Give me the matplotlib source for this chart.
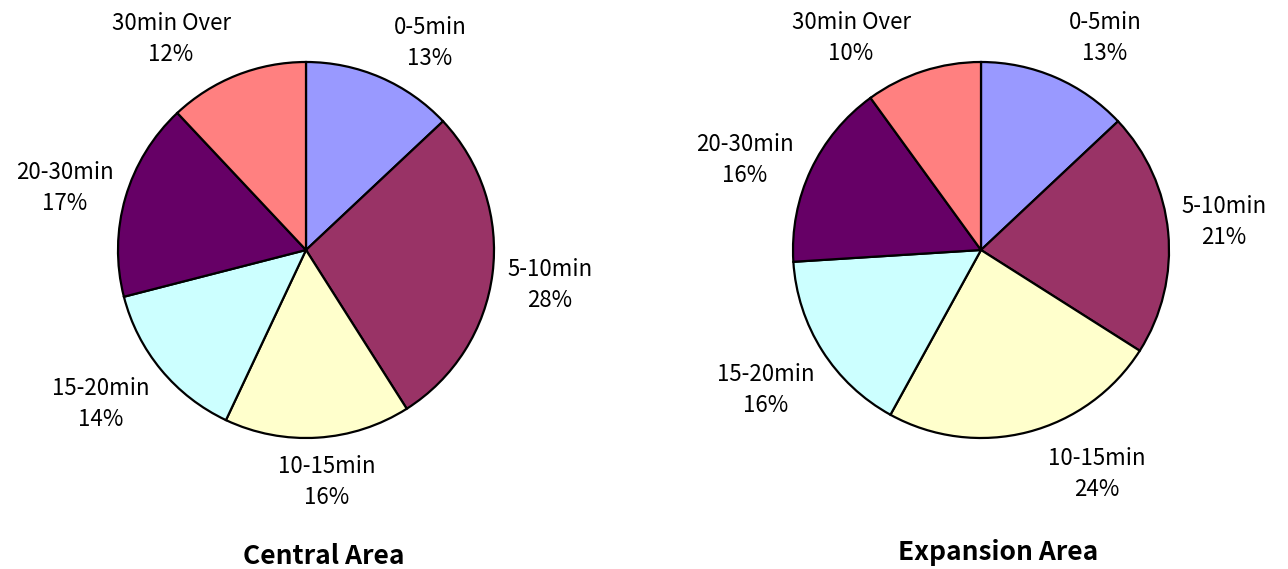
import matplotlib
matplotlib.use("Agg")
import matplotlib.pyplot as plt

plt.rcParams['font.family'] = ['Noto Sans CJK JP', 'DejaVu Sans']

categories = ["0-5min", "5-10min", "10-15min", "15-20min", "20-30min", "30min Over"]
central_pct = [13, 28, 16, 14, 17, 12]
expansion_pct = [13, 21, 24, 16, 16, 10]
titles = ["Central Area", "Expansion Area"]
colors = ["#9999FF", "#993366", "#FFFFCC", "#CCFFFF", "#660066", "#FF8080"]

W, H = 1288, 569
R = 188.0  # pie radius in pixels
fig = plt.figure(figsize=(W / 100, H / 100), dpi=100)

# label anchors relative to the pie centre, in pixels (x right, y up)
central_label_xy = [(124, 207), (244, -35), (21, -232), (-205, -154), (-241, 62), (-135, 211)]
expansion_label_xy = [(124, 212), (243, 28), (116, -224), (-215, -140), (-236, 90), (-130, 212)]


def draw_pie(rect_px, center_px, values, title, label_xy, title_xy):
    x0, x1 = rect_px
    ax = fig.add_axes([x0 / W, 0, (x1 - x0) / W, 1])
    cx, cy = center_px
    ax.pie(values, colors=colors, startangle=90, counterclock=False,
           wedgeprops=dict(edgecolor="black", linewidth=1.6))
    ax.set_aspect('auto')
    ax.set_xlim(-(cx - x0) / R, (x1 - cx) / R)
    ax.set_ylim(-(H - cy) / R, cy / R)
    for cat, v, (lx, ly) in zip(categories, values, label_xy):
        ax.text(lx / R, ly / R, f"{cat}\n{v}%", ha="center", va="center",
                fontsize=16, linespacing=1.48)
    ax.text(title_xy[0] / R, title_xy[1] / R, title, ha="center", va="center",
            fontsize=19, fontweight="bold")
    ax.axis("off")
    return ax


draw_pie((0, 644), (306, 250), central_pct, titles[0],
         central_label_xy, (18, -307))
draw_pie((644, W), (981, 250), expansion_pct, titles[1],
         expansion_label_xy, (17, -303))

fig.savefig("out.png", dpi=100)
